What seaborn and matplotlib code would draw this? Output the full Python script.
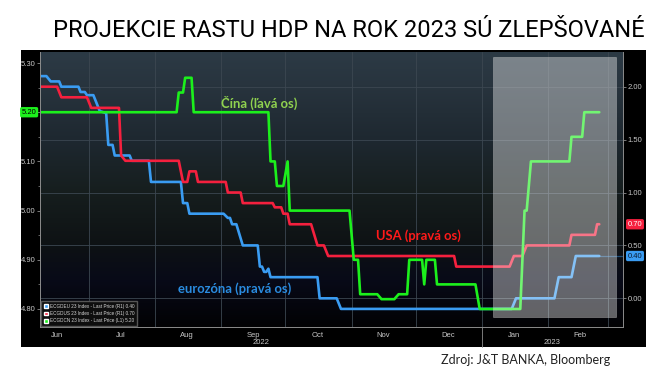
import matplotlib
matplotlib.use("Agg")
import matplotlib.pyplot as plt
import matplotlib.dates as mdates
import matplotlib.transforms as mtransforms
from matplotlib.patches import Rectangle, Patch
from matplotlib.lines import Line2D
from matplotlib.ticker import FixedLocator, FormatStrFormatter, NullFormatter
from matplotlib import font_manager
import numpy as np
import pandas as pd
import seaborn as sns

# ---------------- data ----------------
china_dates = ["2022-06-08", "2022-08-11", "2022-08-12", "2022-08-14", "2022-08-15",
               "2022-08-18", "2022-08-19", "2022-09-23", "2022-09-24", "2022-09-26",
               "2022-09-27", "2022-09-30", "2022-10-02", "2022-10-03", "2022-10-31",
               "2022-11-02", "2022-11-04", "2022-11-05", "2022-11-13", "2022-11-15",
               "2022-11-21", "2022-11-23", "2022-11-27", "2022-11-28", "2022-12-04",
               "2022-12-05", "2022-12-06", "2022-12-10", "2022-12-11", "2022-12-29",
               "2022-12-31", "2023-01-19", "2023-01-21", "2023-01-22", "2023-01-24",
               "2023-02-11", "2023-02-12", "2023-02-17", "2023-02-18", "2023-02-25"]
china_values = [5.20, 5.20, 5.24, 5.24, 5.27,
                5.27, 5.20, 5.20, 5.10, 5.10,
                5.05, 5.05, 5.10, 5.00, 5.00,
                4.90, 4.90, 4.83, 4.83, 4.82,
                4.82, 4.83, 4.83, 4.90, 4.90,
                4.85, 4.90, 4.90, 4.85, 4.85,
                4.80, 4.80, 5.00, 5.00, 5.10,
                5.10, 5.15, 5.15, 5.20, 5.20]

usa_dates = ["2022-06-08", "2022-06-16", "2022-06-18", "2022-06-30", "2022-07-02",
             "2022-07-15", "2022-07-16", "2022-07-18", "2022-08-12", "2022-08-14",
             "2022-08-16", "2022-08-17", "2022-08-20", "2022-08-21", "2022-09-03",
             "2022-09-04", "2022-09-10", "2022-09-11", "2022-09-25", "2022-09-26",
             "2022-09-29", "2022-09-30", "2022-10-02", "2022-10-03", "2022-10-13",
             "2022-10-16", "2022-10-19", "2022-10-21", "2022-12-19", "2022-12-20",
             "2023-01-14", "2023-01-16", "2023-01-20", "2023-01-22", "2023-02-11",
             "2023-02-12", "2023-02-23", "2023-02-24", "2023-02-25"]
usa_values = [2.00, 2.00, 1.90, 1.90, 1.80,
              1.80, 1.35, 1.30, 1.30, 1.10,
              1.10, 1.20, 1.20, 1.10, 1.10,
              1.00, 1.00, 0.90, 0.90, 0.86,
              0.86, 0.80, 0.80, 0.70, 0.70,
              0.50, 0.50, 0.40, 0.40, 0.30,
              0.30, 0.40, 0.40, 0.50, 0.50,
              0.60, 0.60, 0.70, 0.70]

eu_dates = ["2022-06-08", "2022-06-11", "2022-06-13", "2022-06-17", "2022-06-18",
            "2022-06-26", "2022-06-27", "2022-06-29", "2022-06-30", "2022-07-03",
            "2022-07-06", "2022-07-09", "2022-07-10", "2022-07-12", "2022-07-13",
            "2022-07-20", "2022-07-21", "2022-07-29", "2022-07-30", "2022-08-13",
            "2022-08-14", "2022-08-16", "2022-08-17", "2022-09-02", "2022-09-04",
            "2022-09-05", "2022-09-06", "2022-09-08", "2022-09-11", "2022-09-18",
            "2022-09-19", "2022-09-20", "2022-09-21", "2022-09-22", "2022-09-23",
            "2022-09-24", "2022-10-16", "2022-10-17", "2022-10-25", "2022-10-27",
            "2023-01-15", "2023-01-17", "2023-02-04", "2023-02-06", "2023-02-12",
            "2023-02-14", "2023-02-25"]
eu_values = [2.10, 2.10, 2.05, 2.05, 2.00,
             2.00, 1.95, 1.95, 1.92, 1.92,
             1.77, 1.75, 1.45, 1.45, 1.35,
             1.35, 1.30, 1.30, 1.10, 1.10,
             0.90, 0.90, 0.80, 0.80, 0.76,
             0.76, 0.70, 0.70, 0.50, 0.50,
             0.30, 0.30, 0.25, 0.25, 0.28,
             0.20, 0.20, 0.00, 0.00, -0.10,
             -0.10, 0.00, 0.00, 0.20, 0.20,
             0.40, 0.40]

left_ticks = [4.80, 4.90, 5.00, 5.10, 5.20, 5.30]
right_ticks = [0.00, 0.50, 1.00, 1.50, 2.00]
year_labels = ["2022", "2023"]
legend_labels = ["ECGDEU 23 Index - Last Price (R1) 0.40",
                 "ECGDUS 23 Index - Last Price (R1) 0.70",
                 "ECGDCN 23 Index - Last Price (L1) 5.20"]
title_text = "PROJEKCIE RASTU HDP NA ROK 2023 SÚ ZLEPŠOVANÉ"
source_text = "Zdroj: J&T BANKA, Bloomberg"
label_china = "Čína (ľavá os)"
label_usa = "USA (pravá os)"
label_eu = "eurozóna (pravá os)"

# ---------------- styling ----------------
names = {f.name for f in font_manager.fontManager.ttflist}
def pick(*cands):
    for c in cands:
        if c in names:
            return c
    return "DejaVu Sans"

title_font = pick("Liberation Sans Narrow", "Roboto", "Lato")
label_font = pick("Lato", "Open Sans", "Roboto")
tick_font = pick("Liberation Sans Narrow", "Liberation Sans")

sns.set_style("dark")
plt.rcParams["font.family"] = [tick_font, "DejaVu Sans"]

EU_C = "#3a9cf2"
US_C = "#f5203e"
CN_C = "#1cf01c"
TICK_C = "#c8c8c8"
GRID_C = "#3c4751"
AXIS_C = "#8c8c8c"

W, H = 661, 375
def fx(px): return px / W
def fy(py): return 1 - py / H

fig = plt.figure(figsize=(W / 100, H / 100), dpi=100)
fig.patch.set_facecolor("white")

panel = Rectangle((fx(21), fy(347)), fx(646) - fx(21), fy(50) - fy(347),
                  transform=fig.transFigure, facecolor="black", edgecolor="none", zorder=-5)
fig.add_artist(panel)

pos = [fx(40), fy(327), fx(623) - fx(40), fy(52) - fy(327)]

# background gradient of the plot area
bg = fig.add_axes(pos, zorder=-1)
stop_pos = [0.0, 0.12, 0.32, 0.51, 0.70, 0.83, 1.0]
stop_col = np.array([[0x2c, 0x3a, 0x45], [0x28, 0x34, 0x3e], [0x1e, 0x28, 0x30],
                     [0x16, 0x1e, 0x1e], [0x0e, 0x12, 0x14], [0x08, 0x0a, 0x18],
                     [0x02, 0x02, 0x04]]) / 255.0
rows = np.linspace(0, 1, 300)
grad = np.stack([np.interp(rows, stop_pos, stop_col[:, i]) for i in range(3)], axis=-1)
bg.imshow(grad[:, None, :], aspect="auto", extent=[0, 1, 0, 1], origin="upper")
bg.set_axis_off()

ax = fig.add_axes(pos)
ax.patch.set_visible(False)
ax2 = ax.twinx()
ax2.patch.set_visible(False)

eu_df = pd.DataFrame({"date": pd.to_datetime(eu_dates), "value": eu_values})
us_df = pd.DataFrame({"date": pd.to_datetime(usa_dates), "value": usa_values})
cn_df = pd.DataFrame({"date": pd.to_datetime(china_dates), "value": china_values})

sns.lineplot(data=eu_df, x="date", y="value", ax=ax, color=EU_C, linewidth=1.9,
             estimator=None, sort=False, legend=False)
sns.lineplot(data=us_df, x="date", y="value", ax=ax, color=US_C, linewidth=1.9,
             estimator=None, sort=False, legend=False)
sns.lineplot(data=cn_df, x="date", y="value", ax=ax2, color=CN_C, linewidth=1.9,
             estimator=None, sort=False, legend=False)

xmin = pd.Timestamp("2022-06-08")
xmax = pd.Timestamp("2023-03-08 03:00")
ax.set_xlim(xmin, xmax)
ax.set_ylim(-0.271, 2.328)
ax2.set_ylim(4.7634, 5.3224)

# faint last-price line of eurozone to the right axis
ax.plot([eu_df["date"].iloc[-1], xmax], [eu_values[-1], eu_values[-1]],
        color=EU_C, alpha=0.45, lw=0.9)

for a in (ax, ax2):
    a.set_xlabel("")
    a.set_ylabel("")
    for s in a.spines.values():
        s.set_visible(False)

ax.yaxis.tick_right()
ax.yaxis.set_label_position("right")
ax2.yaxis.tick_left()
ax2.yaxis.set_label_position("left")
ax.spines["right"].set_visible(True)
ax.spines["bottom"].set_visible(True)
ax2.spines["left"].set_visible(True)
for s in (ax.spines["right"], ax.spines["bottom"], ax2.spines["left"]):
    s.set_color(AXIS_C)
    s.set_linewidth(0.7)

# x axis: month boundaries as major ticks/grid, labels at mid-month
ax.xaxis.set_major_locator(mdates.MonthLocator())
ax.xaxis.set_major_formatter(NullFormatter())
ax.xaxis.set_minor_locator(mdates.MonthLocator(bymonthday=16))
ax.xaxis.set_minor_formatter(mdates.DateFormatter("%b"))
ax.tick_params(axis="x", which="major", length=3, width=0.6, color=AXIS_C, direction="out")
ax.tick_params(axis="x", which="minor", length=0, labelsize=5.5, labelcolor=TICK_C, pad=3.5)

# right axis
ax.yaxis.set_major_locator(FixedLocator(right_ticks))
ax.yaxis.set_major_formatter(FormatStrFormatter("%.2f"))
ax.tick_params(axis="y", which="major", length=2, width=0.6, color=AXIS_C,
               labelsize=5.5, labelcolor=TICK_C, pad=1.5)
ax.grid(True, axis="y", which="major", color=GRID_C, lw=0.6)
ax.grid(True, axis="x", which="major", color=GRID_C, lw=0.6)
ax.grid(False, axis="x", which="minor")

# left axis
ax2.yaxis.set_major_locator(FixedLocator(left_ticks))
ax2.yaxis.set_minor_locator(FixedLocator([4.85, 4.95, 5.05, 5.15, 5.25]))
ax2.yaxis.set_major_formatter(FormatStrFormatter("%.2f"))
ax2.tick_params(axis="y", which="major", length=2, width=0.6, color=AXIS_C,
                labelsize=5.5, labelcolor=TICK_C, pad=1.5)
ax2.tick_params(axis="y", which="minor", length=1.3, width=0.5, color=AXIS_C)
ax2.grid(False)

# year labels and year separator
xmin_n, xmax_n = mdates.date2num(xmin), mdates.date2num(xmax)
jan1 = mdates.date2num(pd.Timestamp("2023-01-01"))
btrans = mtransforms.blended_transform_factory(ax.transData, ax.transAxes)
ax.text((xmin_n + jan1) / 2, -0.058, year_labels[0], transform=btrans, ha="center",
        va="center", fontsize=5.5, color=TICK_C)
ax.text((jan1 + xmax_n) / 2, -0.058, year_labels[1], transform=btrans, ha="center",
        va="center", fontsize=5.5, color=TICK_C)
ax.add_artist(Line2D([jan1, jan1], [0, -0.073], transform=btrans, color=AXIS_C,
                     lw=0.6, clip_on=False))

# highlighted window
x0 = mdates.date2num(pd.Timestamp("2023-01-06"))
x1 = mdates.date2num(pd.Timestamp("2023-03-05"))
ax2.add_patch(Rectangle((x0, 4.784), x1 - x0, 5.312 - 4.784, facecolor="white",
                        alpha=0.38, edgecolor="#d8d8d8", lw=0.6, zorder=6))

# last value tags
ltrans = mtransforms.blended_transform_factory(ax2.transAxes, ax2.transData)
ax2.text(-0.006, china_values[-1], f"{china_values[-1]:.2f}", transform=ltrans, ha="right",
         va="center", fontsize=5.5, color="black",
         bbox=dict(boxstyle="round,pad=0.22", fc=CN_C, ec="none"), zorder=8)
rtrans = mtransforms.blended_transform_factory(ax.transAxes, ax.transData)
ax.text(1.008, usa_values[-1], f"{usa_values[-1]:.2f}", transform=rtrans, ha="left",
        va="center", fontsize=5.5, color="white",
        bbox=dict(boxstyle="round,pad=0.22", fc=US_C, ec="none"), zorder=8)
ax.text(1.008, eu_values[-1], f"{eu_values[-1]:.2f}", transform=rtrans, ha="left",
        va="center", fontsize=5.5, color="#0a1a30",
        bbox=dict(boxstyle="round,pad=0.22", fc=EU_C, ec="none"), zorder=8)

# series annotations
ax2.text(0.3105, 0.8145, label_china, transform=ax2.transAxes, ha="left", va="center",
         fontsize=9.4, fontweight="bold", color="#8fd14f", family=label_font, zorder=7)
ax2.text(0.5763, 0.331, label_usa, transform=ax2.transAxes, ha="left", va="center",
         fontsize=9.4, fontweight="bold", color="#ff1a1a", family=label_font, zorder=7)
ax2.text(0.2367, 0.138, label_eu, transform=ax2.transAxes, ha="left", va="center",
         fontsize=9.4, fontweight="bold", color="#2a8ce0", family=label_font, zorder=7)

# Bloomberg-style legend
handles = [Patch(facecolor=EU_C), Patch(facecolor=US_C), Patch(facecolor=CN_C)]
leg = ax2.legend(handles, legend_labels, loc="lower left", bbox_to_anchor=(0.002, 0.004),
                 fontsize=3.3, frameon=True, facecolor="#0e0e0e", edgecolor="#555555",
                 framealpha=1, handlelength=0.9, handleheight=0.9, handletextpad=0.5,
                 borderpad=0.55, labelspacing=0.5, fancybox=False, borderaxespad=0)
for t in leg.get_texts():
    t.set_color("#d8d8d8")

# title and source
fig.text(fx(349), fy(37.3), title_text, ha="center", va="baseline", fontsize=17,
         family=title_font, color="black")
fig.text(fx(441), fy(360), source_text, ha="left", va="center", fontsize=9,
         family=label_font, color="#222222")

fig.savefig("out.png", dpi=100, facecolor="white")
